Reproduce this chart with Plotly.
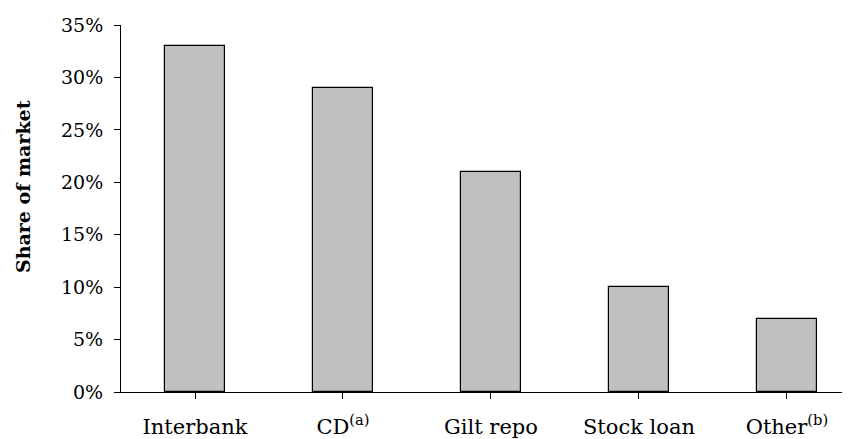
import plotly.graph_objects as go

categories = ["Interbank", "CD<sup>(a)</sup>", "Gilt repo", "Stock loan", "Other<sup>(b)</sup>"]
shares = [33, 29, 21, 10, 7]
y_ticks = [0, 5, 10, 15, 20, 25, 30, 35]
y_tick_labels = [f"{v}%" for v in y_ticks]

FONT = "DejaVu Serif"

fig = go.Figure(go.Bar(
    x=list(range(len(categories))),
    y=shares,
    width=0.405,
    marker=dict(color="#c0c0c0", line=dict(color="#000000", width=1.2)),
))

fig.update_layout(
    width=842, height=431,
    margin=dict(l=113, r=0, t=17, b=47),
    paper_bgcolor="white", plot_bgcolor="white",
    font=dict(family=FONT, size=19, color="black"),
    showlegend=False,
    bargap=0,
)
fig.update_xaxes(
    range=[-0.5, 4.426],
    tickmode="array",
    tickvals=list(range(len(categories))),
    ticktext=categories,
    showline=True, linecolor="black", linewidth=1,
    ticks="outside", ticklen=6, tickcolor="black",
    tickson="boundaries",
    showgrid=False, zeroline=False,
    automargin=False,
    ticklabelstandoff=10,
    tickfont=dict(family=FONT, size=21),
)
fig.update_yaxes(
    range=[0, 35],
    tickmode="array",
    tickvals=y_ticks,
    ticktext=y_tick_labels,
    showline=True, linecolor="black", linewidth=1,
    ticks="outside", ticklen=6, tickcolor="black",
    showgrid=False, zeroline=False,
    automargin=False,
    ticklabelstandoff=7,
    tickfont=dict(family=FONT, size=19),
)
fig.add_annotation(
    text="<b>Share of market</b>",
    xref="paper", yref="paper",
    x=-0.1344, y=0.5586,
    xanchor="center", yanchor="middle",
    textangle=-90, showarrow=False,
    font=dict(family=FONT, size=19),
)

fig.write_html("out.html")
